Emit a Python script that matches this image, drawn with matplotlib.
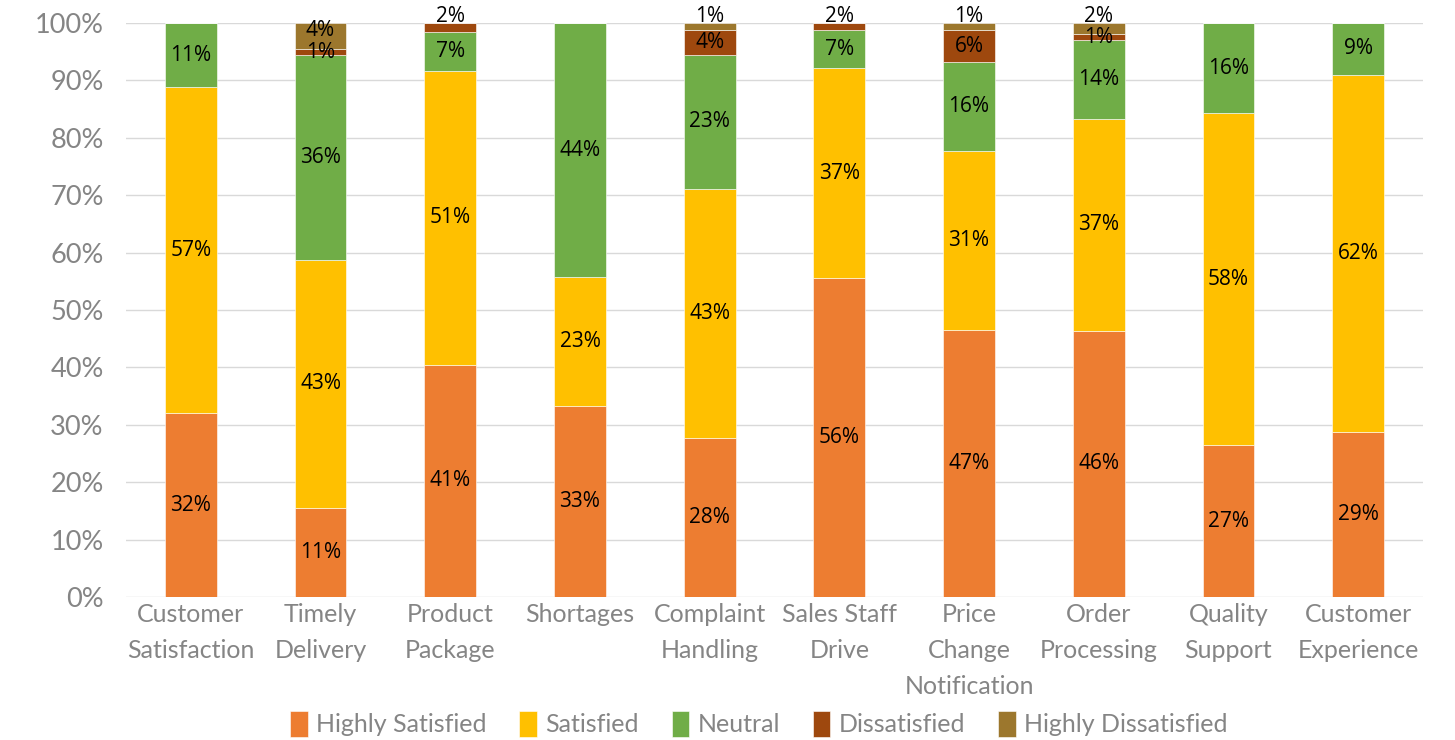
import matplotlib.pyplot as plt
import numpy as np

# Data (bar heights, labels as printed)
categories = ["Customer\nSatisfaction", "Timely\nDelivery", "Product\nPackage",
              "Shortages", "Complaint\nHandling", "Sales Staff\nDrive",
              "Price\nChange\nNotification", "Order\nProcessing",
              "Quality\nSupport", "Customer\nExperience"]
series = ["Highly Satisfied", "Satisfied", "Neutral", "Dissatisfied", "Highly Dissatisfied"]

highly_satisfied = [32.1, 15.5, 40.5, 33.3, 27.7, 55.5, 46.6, 46.4, 26.5, 28.8]
satisfied = [56.7, 43.3, 51.2, 22.4, 43.4, 36.6, 31.1, 36.9, 57.8, 62.2]
neutral = [11.2, 35.6, 6.7, 44.3, 23.3, 6.7, 15.5, 13.7, 15.7, 9.0]
dissatisfied = [0, 1.0, 1.6, 0, 4.3, 1.2, 5.5, 1.1, 0, 0]
highly_dissatisfied = [0, 4.6, 0, 0, 1.3, 0, 1.3, 1.9, 0, 0]

hs_labels = [32, 11, 41, 33, 28, 56, 47, 46, 27, 29]
sat_labels = [57, 43, 51, 23, 43, 37, 31, 37, 58, 62]
neu_labels = [11, 36, 7, 44, 23, 7, 16, 14, 16, 9]
dis_labels = [0, 1, 2, 0, 4, 2, 6, 1, 0, 0]
hd_labels = [0, 4, 0, 0, 1, 0, 1, 2, 0, 0]

colors = ["#ED7D31", "#FFC000", "#70AD47", "#9E480E", "#9C772D"]

values = [highly_satisfied, satisfied, neutral, dissatisfied, highly_dissatisfied]
labels = [hs_labels, sat_labels, neu_labels, dis_labels, hd_labels]

fig = plt.figure(figsize=(14.55, 7.4), dpi=100)
ax = fig.add_axes([0.0866, 0.193, 0.8914, 0.776])

x = np.arange(len(categories))
bottom = np.zeros(len(categories))
tops = np.sum(values, axis=0)
prev = np.zeros(len(categories))  # height of the segment just below

for vals, lbls, name, col in zip(values, labels, series, colors):
    vals = np.array(vals, dtype=float)
    ax.bar(x, vals, 0.4, bottom=bottom, color=col, label=name,
           edgecolor="#ffffff", linewidth=0.4, zorder=3)
    for i, (v, lab) in enumerate(zip(vals, lbls)):
        if v <= 0:
            continue
        y = bottom[i] + v / 2
        if v < 2.5 and abs(bottom[i] + v - tops[i]) < 1e-6:
            # tiny segment at the top of a bar: label sits just above the bar
            y = 101.2
        elif 0 < prev[i] < 2:
            # keep clear of the label of a thin segment below
            y += 1.0
        ax.text(x[i], y, f"{lab}%", ha="center", va="center", fontsize=15,
                family="Open Sans", color="black", zorder=5, clip_on=False)
    prev = vals
    bottom += vals

ax.set_xlim(-0.5, len(categories) - 0.5)
ax.set_ylim(0, 100)
ax.set_yticks(np.arange(0, 101, 10))
ax.set_yticklabels([f"{t}%" for t in range(0, 101, 10)])
ax.set_xticks(x)
ax.set_xticklabels(categories, linespacing=1.7)

grey = "#858585"
for s in ax.spines.values():
    s.set_visible(False)
ax.grid(axis="y", color="#d9d9d9", linewidth=1, zorder=0)
ax.tick_params(axis="both", length=0, colors=grey)
ax.tick_params(axis="y", pad=16, labelsize=19.5)
ax.tick_params(axis="x", pad=4, labelsize=18)
for t in ax.get_xticklabels() + ax.get_yticklabels():
    t.set_family("Lato")

leg = fig.legend(loc="center", bbox_to_anchor=(759 / 1455, 1 - 724 / 740), ncol=5,
                 frameon=False, handlelength=0.7, handleheight=1.2,
                 columnspacing=1.3, handletextpad=0.35,
                 prop={"family": "Lato", "size": 18})
for t in leg.get_texts():
    t.set_color(grey)

fig.savefig("out.png", dpi=100)
